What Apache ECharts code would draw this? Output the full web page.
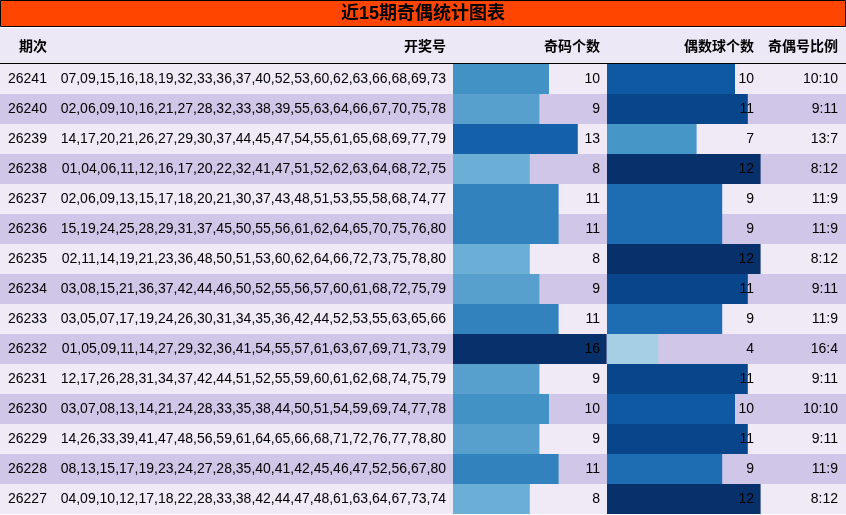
<!DOCTYPE html>
<html><head><meta charset="utf-8">
<script src="https://cdn.jsdelivr.net/npm/echarts@6/dist/echarts.min.js"></script>
<style>html,body{margin:0;padding:0;background:#fff}#c{width:846px;height:515px}</style>
</head><body><div id="c"></div>
<script>
const periods=['26241','26240','26239','26238','26237','26236','26235','26234','26233','26232','26231','26230','26229','26228','26227'];
const draws=['07,09,15,16,18,19,32,33,36,37,40,52,53,60,62,63,66,68,69,73','02,06,09,10,16,21,27,28,32,33,38,39,55,63,64,66,67,70,75,78','14,17,20,21,26,27,29,30,37,44,45,47,54,55,61,65,68,69,77,79','01,04,06,11,12,16,17,20,22,32,41,47,51,52,62,63,64,68,72,75','02,06,09,13,15,17,18,20,21,30,37,43,48,51,53,55,58,68,74,77','15,19,24,25,28,29,31,37,45,50,55,56,61,62,64,65,70,75,76,80','02,11,14,19,21,23,36,48,50,51,53,60,62,64,66,72,73,75,78,80','03,08,15,21,36,37,42,44,46,50,52,55,56,57,60,61,68,72,75,79','03,05,07,17,19,24,26,30,31,34,35,36,42,44,52,53,55,63,65,66','01,05,09,11,14,27,29,32,36,41,54,55,57,61,63,67,69,71,73,79','12,17,26,28,31,34,37,42,44,51,52,55,59,60,61,62,68,74,75,79','03,07,08,13,14,21,24,28,33,35,38,44,50,51,54,59,69,74,77,78','14,26,33,39,41,47,48,56,59,61,64,65,66,68,71,72,76,77,78,80','08,13,15,17,19,23,24,27,28,35,40,41,42,45,46,47,52,56,67,80','04,09,10,12,17,18,22,28,33,38,42,44,47,48,61,63,64,67,73,74'];
const oddCounts=[10,9,13,8,11,11,8,9,11,16,9,10,9,11,8];
const evenCounts=[10,11,7,12,9,9,12,11,9,4,11,10,11,9,12];
const ratios=['10:10','9:11','13:7','8:12','11:9','11:9','8:12','9:11','11:9','16:4','9:11','10:10','9:11','11:9','8:12'];
const headers=['期次','开奖号','奇码个数','偶数球个数','奇偶号比例'];
const F='"Liberation Sans","Noto Sans CJK SC",sans-serif';
const ch=echarts.init(document.getElementById('c'));
const yCat={type:'category',data:periods,inverse:true,show:false};
function yAx(i){return Object.assign({gridIndex:i},yCat);}
ch.setOption({
  animation:false,
  grid:[{left:0,top:64,width:846,height:450},{left:453,top:64,width:153.6,height:450},{left:607,top:64,width:153.6,height:450}],
  xAxis:[{gridIndex:0,type:'value',min:0,max:1,show:false},{gridIndex:1,type:'value',min:0,max:16,show:false},{gridIndex:2,type:'value',min:0,max:12,show:false}],
  yAxis:[Object.assign(yAx(0),{show:true,axisLine:{show:false},axisTick:{show:false},axisLabel:{show:false},splitArea:{show:true,areaStyle:{color:['#efeaf6','#d0c6e7']}}}),yAx(1),yAx(2)],
  visualMap:[
    {show:false,seriesIndex:0,dimension:0,min:8,max:16,inRange:{color:['#6baed6','#4292c6','#2171b5','#08519c','#08306b']}},
    {show:false,seriesIndex:1,dimension:0,min:4,max:12,inRange:{color:['#a6cee4','#6baed6','#4292c6','#2171b5','#08519c','#08306b']}}
  ],
  graphic:[
    {type:'rect',shape:{x:0.5,y:0.5,width:845,height:26},style:{fill:'#ff4500',stroke:'#000',lineWidth:1}},
    {type:'text',x:423,y:14,style:{text:'近15期奇偶统计图表',font:'bold 18px '+F,fill:'#000',align:'center',verticalAlign:'middle'}},
    {type:'rect',shape:{x:0,y:28,width:846,height:35},style:{fill:'#ece8f5'}},
    {type:'line',shape:{x1:0,y1:63.5,x2:846,y2:63.5},style:{stroke:'#000',lineWidth:1}},
    {type:'text',x:33,y:47,style:{text:headers[0],font:'bold 14px '+F,align:'center',verticalAlign:'middle',fill:'#000'}},
    {type:'text',x:446,y:47,style:{text:headers[1],font:'bold 14px '+F,align:'right',verticalAlign:'middle',fill:'#000'}},
    {type:'text',x:600,y:47,style:{text:headers[2],font:'bold 14px '+F,align:'right',verticalAlign:'middle',fill:'#000'}},
    {type:'text',x:754,y:47,style:{text:headers[3],font:'bold 14px '+F,align:'right',verticalAlign:'middle',fill:'#000'}},
    {type:'text',x:838,y:47,style:{text:headers[4],font:'bold 14px '+F,align:'right',verticalAlign:'middle',fill:'#000'}}
  ],
  series:[
    {type:'bar',xAxisIndex:1,yAxisIndex:1,data:oddCounts,barWidth:'100%',z:2},
    {type:'bar',xAxisIndex:2,yAxisIndex:2,data:evenCounts,barWidth:'100%',z:2},
    {type:'custom',xAxisIndex:0,yAxisIndex:0,z:5,data:periods.map((p,i)=>[0,i]),
     renderItem:function(params,api){
       const i=params.dataIndex;const y=api.coord([0,i])[1];
       const t=(x,s,al)=>({type:'text',style:{x:x,y:y,text:s,font:'14px '+F,fill:'#000',align:al,verticalAlign:'middle'}});
       return {type:'group',children:[t(8,periods[i],'left'),t(446,draws[i],'right'),t(600,String(oddCounts[i]),'right'),t(754,String(evenCounts[i]),'right'),t(838,ratios[i],'right')]};
     }}
  ]
});
</script></body></html>
